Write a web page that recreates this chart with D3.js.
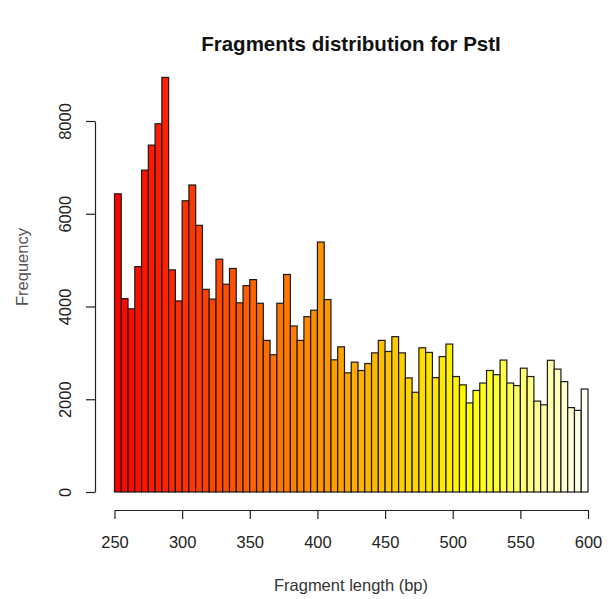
<!DOCTYPE html>
<html>
<head>
<meta charset="utf-8">
<script src="https://cdn.jsdelivr.net/npm/d3@7"></script>
<style>
  html, body { margin: 0; padding: 0; background: #fff; }
  svg { display: block; }
</style>
</head>
<body>
<svg id="chart" width="612" height="599"></svg>
<script>
// ---- data ----
const binStart = 250;
const binWidth = 5;
const frequencies = [
  6430, 4170, 3950, 4860, 6940, 7480, 7940, 8940, 4790, 4120,
  6280, 6620, 5750, 4370, 4160, 5020, 4480, 4820, 4080, 4450,
  4580, 4070, 3270, 2960, 4070, 4690, 3580, 3270, 3780, 3920,
  5390, 4150, 2850, 3130, 2570, 2800, 2620, 2770, 3000, 3270,
  3030, 3350, 3000, 2460, 2150, 3110, 3010, 2465, 2920, 3190,
  2490, 2310, 1920, 2190, 2350, 2620, 2530, 2845, 2350, 2295,
  2670, 2490, 1960, 1880, 2840, 2650, 2380, 1820, 1760, 2220
];
const xTicks = [250, 300, 350, 400, 450, 500, 550, 600];
const yTicks = [0, 2000, 4000, 6000, 8000];
const titleText = "Fragments distribution for PstI";
const xLabel = "Fragment length (bp)";
const yLabel = "Frequency";

// ---- R heat.colors(n) ----
function hsv2rgb(h, s, v) {
  const i = Math.floor(h * 6), f = h * 6 - i;
  const p = v * (1 - s), q = v * (1 - f * s), t = v * (1 - (1 - f) * s);
  let r, g, b;
  switch (((i % 6) + 6) % 6) {
    case 0: r = v; g = t; b = p; break;
    case 1: r = q; g = v; b = p; break;
    case 2: r = p; g = v; b = t; break;
    case 3: r = p; g = q; b = v; break;
    case 4: r = t; g = p; b = v; break;
    default: r = v; g = p; b = q;
  }
  return d3.rgb(Math.round(r * 255), Math.round(g * 255), Math.round(b * 255)).formatHex();
}
function heatColors(n) {
  const j = Math.floor(n / 4), i = n - j;
  const out = [];
  for (let k = 0; k < i; k++) out.push(hsv2rgb(i > 1 ? (k / (i - 1)) / 6 : 0, 1, 1));
  for (let k = 0; k < j; k++) {
    const s = j > 1 ? (1 - 1 / (2 * j)) + k * ((1 / (2 * j)) - (1 - 1 / (2 * j))) / (j - 1) : 0.5;
    out.push(hsv2rgb(1 / 6, s, 1));
  }
  return out;
}
const colors = heatColors(frequencies.length);

const bins = frequencies.map((f, i) => ({ x0: binStart + i * binWidth, x1: binStart + (i + 1) * binWidth, f }));

// ---- layout ----
const svg = d3.select("#chart");
const FONT = "'Liberation Sans', Arial, Helvetica, sans-serif";
const x = d3.scaleLinear().domain([250, 600]).range([114.5, 588]);
const y = d3.scaleLinear().domain([0, 8000]).range([492, 121]);

// bars
svg.append("g").selectAll("rect").data(bins).join("rect")
  .attr("x", d => x(d.x0))
  .attr("y", d => y(d.f))
  .attr("width", d => x(d.x1) - x(d.x0))
  .attr("height", d => y(0) - y(d.f))
  .attr("fill", (d, i) => colors[i])
  .attr("stroke", "#1a1a1a")
  .attr("stroke-width", 1.2);

// x axis
const gx = svg.append("g").attr("transform", "translate(0,510)")
  .call(d3.axisBottom(x).tickValues(xTicks).tickSize(9).tickSizeOuter(0).tickFormat(d3.format("d")));
gx.selectAll("path, line").attr("stroke", "#222").attr("stroke-width", 1.2);
gx.selectAll("text").attr("y", 32).attr("dy", "0.35em")
  .attr("font-family", FONT).attr("font-size", 16.5).attr("fill", "#222");

// y axis
const gy = svg.append("g").attr("transform", "translate(95,0)")
  .call(d3.axisLeft(y).tickValues(yTicks).tickSize(9).tickSizeOuter(0).tickFormat(d3.format("d")));
gy.selectAll("path, line").attr("stroke", "#222").attr("stroke-width", 1.2);
gy.selectAll("text")
  .attr("x", null).attr("dy", "0.35em")
  .attr("text-anchor", "middle")
  .attr("transform", "translate(-30,0) rotate(-90)")
  .attr("font-family", FONT).attr("font-size", 16.5).attr("fill", "#222");

// title
svg.append("text").attr("x", 351).attr("y", 44).attr("dy", "0.35em")
  .attr("text-anchor", "middle").attr("font-family", FONT)
  .attr("font-weight", "bold").attr("font-size", 20.5).attr("fill", "#111")
  .text(titleText);

// axis titles
svg.append("text").attr("x", 351).attr("y", 585).attr("dy", "0.35em")
  .attr("text-anchor", "middle").attr("font-family", FONT)
  .attr("font-size", 16.5).attr("fill", "#333").text(xLabel);

svg.append("text").attr("transform", "translate(22,267) rotate(-90)").attr("dy", "0.35em")
  .attr("text-anchor", "middle").attr("font-family", FONT)
  .attr("font-size", 16.5).attr("fill", "#555").text(yLabel);
</script>
</body>
</html>
